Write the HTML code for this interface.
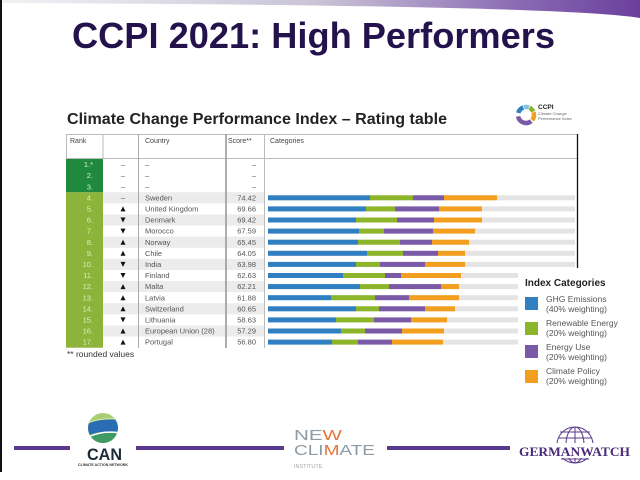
<!DOCTYPE html>
<html><head><meta charset="utf-8"><style>
html,body{margin:0;padding:0;background:#fff;width:640px;height:480px;overflow:hidden}
svg{display:block}
.t{font-family:"Liberation Sans",Arial,sans-serif}
.hd{font-size:7px;fill:#444}
.rw{font-size:7.5px;fill:#555}
.rk{font-size:7.5px;fill:#dbeec0}
.lg{font-size:8.5px;fill:#555}
</style></head><body>
<svg width="640" height="480" viewBox="0 0 640 480" xmlns="http://www.w3.org/2000/svg">
<defs>
<linearGradient id="sw" x1="0" y1="0" x2="1" y2="0">
<stop offset="0" stop-color="#f2f2f5"/><stop offset="0.5" stop-color="#c9c3d6"/><stop offset="0.8" stop-color="#8c6db5"/><stop offset="1" stop-color="#6a3f9c"/>
</linearGradient>
<clipPath id="glb"><circle cx="103" cy="428" r="15"/></clipPath>
</defs>
<rect width="640" height="480" fill="#fff"/>
<path d="M0,0 L640,0 L640,18 Q560,5 0,3 Z" fill="url(#sw)"/>
<rect x="0" y="0" width="2" height="472" fill="#111"/>

<text class="t" x="72" y="48" font-size="36" font-weight="bold" fill="#24124d" textLength="483" lengthAdjust="spacingAndGlyphs">CCPI 2021: High Performers</text>

<text class="t" x="67" y="124" font-size="16" font-weight="bold" fill="#222" textLength="380" lengthAdjust="spacingAndGlyphs">Climate Change Performance Index – Rating table</text>

<!-- CCPI logo -->
<g fill="none" stroke-width="4.5">
<path d="M531.14,121.13 A8,8 0 0 1 518.12,116.39" stroke="#7a5aa6"/>
<path d="M518.27,112.93 A8,8 0 0 1 523.26,107.48" stroke="#2f7fc1"/>
<path d="M523.93,107.27 A8,8 0 0 1 528.74,107.48" stroke="#7fc3e8"/>
<path d="M529.38,107.75 A8,8 0 0 1 533.25,111.62" stroke="#8db52a"/>
<path d="M533.52,112.26 A8,8 0 0 1 532.13,120.14" stroke="#f0a020"/>
</g>
<text class="t" x="538" y="109" font-size="6.5" font-weight="bold" fill="#222">CCPI</text>
<text class="t" x="538" y="115" font-size="4" fill="#666">Climate Change</text>
<text class="t" x="538" y="120" font-size="4" fill="#666">Performance Index</text>

<!-- table header -->
<line x1="67" y1="134.5" x2="578" y2="134.5" stroke="#bbb" stroke-width="1"/>
<line x1="67" y1="158.5" x2="578" y2="158.5" stroke="#bbb" stroke-width="1"/>
<line x1="66.5" y1="134" x2="66.5" y2="159" stroke="#bbb" stroke-width="1"/>
<text class="t hd" x="70" y="143">Rank</text>
<text class="t hd" x="145" y="143">Country</text>
<text class="t hd" x="228" y="143">Score**</text>
<text class="t hd" x="270" y="143">Categories</text>

<!-- rank column -->
<rect x="66" y="159" width="37" height="33.3" fill="#1f8a3e"/>
<rect x="66" y="192.3" width="37" height="155.4" fill="#8cb43a"/>

<!-- rows 1-3 -->
<g transform="translate(0,164.5)">
<text class="t rk" x="93" y="2.6" text-anchor="end">1.*</text>
<text class="t rw" x="123" y="2.6" text-anchor="middle" fill="#999">–</text>
<text class="t rw" x="145" y="2.6">–</text>
<text class="t rw" x="256" y="2.6" text-anchor="end">–</text>
</g>
<g transform="translate(0,175.6)">
<text class="t rk" x="93" y="2.6" text-anchor="end">2.</text>
<text class="t rw" x="123" y="2.6" text-anchor="middle">–</text>
<text class="t rw" x="145" y="2.6">–</text>
<text class="t rw" x="256" y="2.6" text-anchor="end">–</text>
</g>
<g transform="translate(0,186.7)">
<text class="t rk" x="93" y="2.6" text-anchor="end">3.</text>
<text class="t rw" x="123" y="2.6" text-anchor="middle">–</text>
<text class="t rw" x="145" y="2.6">–</text>
<text class="t rw" x="256" y="2.6" text-anchor="end">–</text>
</g>

<!-- row 4 -->
<g transform="translate(0,197.8)">
<rect x="103" y="-5.55" width="161" height="11.1" fill="#ececec"/>
<text class="t rk" x="93" y="2.6" text-anchor="end">4.</text>
<text class="t rw" x="123" y="2.6" text-anchor="middle">–</text>
<text class="t rw" x="145" y="2.6">Sweden</text>
<text class="t rw" x="256" y="2.6" text-anchor="end">74.42</text>
<rect x="268" y="-2.5" width="307" height="5" fill="#e4e4e4"/>
<rect x="268" y="-2.5" width="102" height="5" fill="#2f7fc1"/>
<rect x="370" y="-2.5" width="43" height="5" fill="#8db52a"/>
<rect x="413" y="-2.5" width="31" height="5" fill="#7a5aa6"/>
<rect x="444" y="-2.5" width="53" height="5" fill="#f29f1f"/>
</g>
<!-- row 5 -->
<g transform="translate(0,208.9)">
<text class="t rk" x="93" y="2.6" text-anchor="end">5.</text>
<polygon points="120.5,2.5 125.5,2.5 123,-2.5" fill="#111"/>
<text class="t rw" x="145" y="2.6">United Kingdom</text>
<text class="t rw" x="256" y="2.6" text-anchor="end">69.66</text>
<rect x="268" y="-2.5" width="307" height="5" fill="#e4e4e4"/>
<rect x="268" y="-2.5" width="98" height="5" fill="#2f7fc1"/>
<rect x="366" y="-2.5" width="29" height="5" fill="#8db52a"/>
<rect x="395" y="-2.5" width="44" height="5" fill="#7a5aa6"/>
<rect x="439" y="-2.5" width="43" height="5" fill="#f29f1f"/>
</g>
<!-- row 6 -->
<g transform="translate(0,220)">
<rect x="103" y="-5.55" width="161" height="11.1" fill="#ececec"/>
<text class="t rk" x="93" y="2.6" text-anchor="end">6.</text>
<polygon points="120.5,-2.5 125.5,-2.5 123,2.5" fill="#111"/>
<text class="t rw" x="145" y="2.6">Denmark</text>
<text class="t rw" x="256" y="2.6" text-anchor="end">69.42</text>
<rect x="268" y="-2.5" width="307" height="5" fill="#e4e4e4"/>
<rect x="268" y="-2.5" width="88" height="5" fill="#2f7fc1"/>
<rect x="356" y="-2.5" width="41" height="5" fill="#8db52a"/>
<rect x="397" y="-2.5" width="37" height="5" fill="#7a5aa6"/>
<rect x="434" y="-2.5" width="48" height="5" fill="#f29f1f"/>
</g>
<!-- row 7 -->
<g transform="translate(0,231.1)">
<text class="t rk" x="93" y="2.6" text-anchor="end">7.</text>
<polygon points="120.5,-2.5 125.5,-2.5 123,2.5" fill="#111"/>
<text class="t rw" x="145" y="2.6">Morocco</text>
<text class="t rw" x="256" y="2.6" text-anchor="end">67.59</text>
<rect x="268" y="-2.5" width="307" height="5" fill="#e4e4e4"/>
<rect x="268" y="-2.5" width="91" height="5" fill="#2f7fc1"/>
<rect x="359" y="-2.5" width="25" height="5" fill="#8db52a"/>
<rect x="384" y="-2.5" width="49" height="5" fill="#7a5aa6"/>
<rect x="433" y="-2.5" width="42" height="5" fill="#f29f1f"/>
</g>
<!-- row 8 -->
<g transform="translate(0,242.2)">
<rect x="103" y="-5.55" width="161" height="11.1" fill="#ececec"/>
<text class="t rk" x="93" y="2.6" text-anchor="end">8.</text>
<polygon points="120.5,2.5 125.5,2.5 123,-2.5" fill="#111"/>
<text class="t rw" x="145" y="2.6">Norway</text>
<text class="t rw" x="256" y="2.6" text-anchor="end">65.45</text>
<rect x="268" y="-2.5" width="307" height="5" fill="#e4e4e4"/>
<rect x="268" y="-2.5" width="90" height="5" fill="#2f7fc1"/>
<rect x="358" y="-2.5" width="42" height="5" fill="#8db52a"/>
<rect x="400" y="-2.5" width="32" height="5" fill="#7a5aa6"/>
<rect x="432" y="-2.5" width="37" height="5" fill="#f29f1f"/>
</g>
<!-- row 9 -->
<g transform="translate(0,253.3)">
<text class="t rk" x="93" y="2.6" text-anchor="end">9.</text>
<polygon points="120.5,2.5 125.5,2.5 123,-2.5" fill="#111"/>
<text class="t rw" x="145" y="2.6">Chile</text>
<text class="t rw" x="256" y="2.6" text-anchor="end">64.05</text>
<rect x="268" y="-2.5" width="307" height="5" fill="#e4e4e4"/>
<rect x="268" y="-2.5" width="99" height="5" fill="#2f7fc1"/>
<rect x="367" y="-2.5" width="36" height="5" fill="#8db52a"/>
<rect x="403" y="-2.5" width="35" height="5" fill="#7a5aa6"/>
<rect x="438" y="-2.5" width="27" height="5" fill="#f29f1f"/>
</g>
<!-- row 10 -->
<g transform="translate(0,264.4)">
<rect x="103" y="-5.55" width="161" height="11.1" fill="#ececec"/>
<text class="t rk" x="93" y="2.6" text-anchor="end">10.</text>
<polygon points="120.5,-2.5 125.5,-2.5 123,2.5" fill="#111"/>
<text class="t rw" x="145" y="2.6">India</text>
<text class="t rw" x="256" y="2.6" text-anchor="end">63.98</text>
<rect x="268" y="-2.5" width="307" height="5" fill="#e4e4e4"/>
<rect x="268" y="-2.5" width="88" height="5" fill="#2f7fc1"/>
<rect x="356" y="-2.5" width="24" height="5" fill="#8db52a"/>
<rect x="380" y="-2.5" width="45" height="5" fill="#7a5aa6"/>
<rect x="425" y="-2.5" width="40" height="5" fill="#f29f1f"/>
</g>
<!-- row 11 -->
<g transform="translate(0,275.5)">
<text class="t rk" x="93" y="2.6" text-anchor="end">11.</text>
<polygon points="120.5,-2.5 125.5,-2.5 123,2.5" fill="#111"/>
<text class="t rw" x="145" y="2.6">Finland</text>
<text class="t rw" x="256" y="2.6" text-anchor="end">62.63</text>
<rect x="268" y="-2.5" width="250" height="5" fill="#e4e4e4"/>
<rect x="268" y="-2.5" width="75" height="5" fill="#2f7fc1"/>
<rect x="343" y="-2.5" width="42" height="5" fill="#8db52a"/>
<rect x="385" y="-2.5" width="16" height="5" fill="#7a5aa6"/>
<rect x="401" y="-2.5" width="60" height="5" fill="#f29f1f"/>
</g>
<!-- row 12 -->
<g transform="translate(0,286.6)">
<rect x="103" y="-5.55" width="161" height="11.1" fill="#ececec"/>
<text class="t rk" x="93" y="2.6" text-anchor="end">12.</text>
<polygon points="120.5,2.5 125.5,2.5 123,-2.5" fill="#111"/>
<text class="t rw" x="145" y="2.6">Malta</text>
<text class="t rw" x="256" y="2.6" text-anchor="end">62.21</text>
<rect x="268" y="-2.5" width="250" height="5" fill="#e4e4e4"/>
<rect x="268" y="-2.5" width="92" height="5" fill="#2f7fc1"/>
<rect x="360" y="-2.5" width="29" height="5" fill="#8db52a"/>
<rect x="389" y="-2.5" width="52" height="5" fill="#7a5aa6"/>
<rect x="441" y="-2.5" width="18" height="5" fill="#f29f1f"/>
</g>
<!-- row 13 -->
<g transform="translate(0,297.7)">
<text class="t rk" x="93" y="2.6" text-anchor="end">13.</text>
<polygon points="120.5,2.5 125.5,2.5 123,-2.5" fill="#111"/>
<text class="t rw" x="145" y="2.6">Latvia</text>
<text class="t rw" x="256" y="2.6" text-anchor="end">61.88</text>
<rect x="268" y="-2.5" width="250" height="5" fill="#e4e4e4"/>
<rect x="268" y="-2.5" width="63" height="5" fill="#2f7fc1"/>
<rect x="331" y="-2.5" width="44" height="5" fill="#8db52a"/>
<rect x="375" y="-2.5" width="34" height="5" fill="#7a5aa6"/>
<rect x="409" y="-2.5" width="50" height="5" fill="#f29f1f"/>
</g>
<!-- row 14 -->
<g transform="translate(0,308.8)">
<rect x="103" y="-5.55" width="161" height="11.1" fill="#ececec"/>
<text class="t rk" x="93" y="2.6" text-anchor="end">14.</text>
<polygon points="120.5,2.5 125.5,2.5 123,-2.5" fill="#111"/>
<text class="t rw" x="145" y="2.6">Switzerland</text>
<text class="t rw" x="256" y="2.6" text-anchor="end">60.65</text>
<rect x="268" y="-2.5" width="250" height="5" fill="#e4e4e4"/>
<rect x="268" y="-2.5" width="88" height="5" fill="#2f7fc1"/>
<rect x="356" y="-2.5" width="23" height="5" fill="#8db52a"/>
<rect x="379" y="-2.5" width="46" height="5" fill="#7a5aa6"/>
<rect x="425" y="-2.5" width="30" height="5" fill="#f29f1f"/>
</g>
<!-- row 15 -->
<g transform="translate(0,319.9)">
<text class="t rk" x="93" y="2.6" text-anchor="end">15.</text>
<polygon points="120.5,-2.5 125.5,-2.5 123,2.5" fill="#111"/>
<text class="t rw" x="145" y="2.6">Lithuania</text>
<text class="t rw" x="256" y="2.6" text-anchor="end">58.63</text>
<rect x="268" y="-2.5" width="250" height="5" fill="#e4e4e4"/>
<rect x="268" y="-2.5" width="68" height="5" fill="#2f7fc1"/>
<rect x="336" y="-2.5" width="38" height="5" fill="#8db52a"/>
<rect x="374" y="-2.5" width="37" height="5" fill="#7a5aa6"/>
<rect x="411" y="-2.5" width="36" height="5" fill="#f29f1f"/>
</g>
<!-- row 16 -->
<g transform="translate(0,331)">
<rect x="103" y="-5.55" width="161" height="11.1" fill="#ececec"/>
<text class="t rk" x="93" y="2.6" text-anchor="end">16.</text>
<polygon points="120.5,2.5 125.5,2.5 123,-2.5" fill="#111"/>
<text class="t rw" x="145" y="2.6">European Union (28)</text>
<text class="t rw" x="256" y="2.6" text-anchor="end">57.29</text>
<rect x="268" y="-2.5" width="250" height="5" fill="#e4e4e4"/>
<rect x="268" y="-2.5" width="73" height="5" fill="#2f7fc1"/>
<rect x="341" y="-2.5" width="24" height="5" fill="#8db52a"/>
<rect x="365" y="-2.5" width="37" height="5" fill="#7a5aa6"/>
<rect x="402" y="-2.5" width="42" height="5" fill="#f29f1f"/>
</g>
<!-- row 17 -->
<g transform="translate(0,342.1)">
<text class="t rk" x="93" y="2.6" text-anchor="end">17.</text>
<polygon points="120.5,2.5 125.5,2.5 123,-2.5" fill="#111"/>
<text class="t rw" x="145" y="2.6">Portugal</text>
<text class="t rw" x="256" y="2.6" text-anchor="end">56.80</text>
<rect x="268" y="-2.5" width="250" height="5" fill="#e4e4e4"/>
<rect x="268" y="-2.5" width="64" height="5" fill="#2f7fc1"/>
<rect x="332" y="-2.5" width="26" height="5" fill="#8db52a"/>
<rect x="358" y="-2.5" width="34" height="5" fill="#7a5aa6"/>
<rect x="392" y="-2.5" width="51" height="5" fill="#f29f1f"/>
</g>

<!-- vertical lines -->
<line x1="103" y1="134" x2="103" y2="159" stroke="#bbb" stroke-width="1"/>
<line x1="138.5" y1="134" x2="138.5" y2="348" stroke="#aaa" stroke-width="1"/>
<line x1="226" y1="134" x2="226" y2="348" stroke="#999" stroke-width="1.6"/>
<line x1="264.5" y1="134" x2="264.5" y2="348" stroke="#bbb" stroke-width="1"/>
<line x1="577.5" y1="134" x2="577.5" y2="268" stroke="#111" stroke-width="1.3"/>

<text class="t" x="67" y="357" font-size="8.5" fill="#333">** rounded values</text>

<!-- legend -->
<rect x="519" y="268" width="121" height="125" fill="#fff"/>
<text class="t" x="525" y="286" font-size="10" font-weight="bold" fill="#222">Index Categories</text>
<rect x="525" y="297" width="13" height="13" fill="#2f7fc1"/>
<text class="t lg" x="546" y="302">GHG Emissions</text>
<text class="t lg" x="546" y="312">(40% weighting)</text>
<rect x="525" y="322" width="13" height="13" fill="#8db52a"/>
<text class="t lg" x="546" y="326">Renewable Energy</text>
<text class="t lg" x="546" y="336">(20% weighting)</text>
<rect x="525" y="345" width="13" height="13" fill="#7a5aa6"/>
<text class="t lg" x="546" y="350">Energy Use</text>
<text class="t lg" x="546" y="360">(20% weighting)</text>
<rect x="525" y="370" width="13" height="13" fill="#f29f1f"/>
<text class="t lg" x="546" y="374">Climate Policy</text>
<text class="t lg" x="546" y="384">(20% weighting)</text>

<!-- footer lines -->
<rect x="14" y="446" width="56" height="4" fill="#5a3a8e"/>
<rect x="136" y="446" width="148" height="4" fill="#5a3a8e"/>
<rect x="387" y="446" width="123" height="4" fill="#5a3a8e"/>

<!-- CAN logo -->
<g clip-path="url(#glb)">
<rect x="85" y="410" width="36" height="36" fill="#a7cf74"/>
<path d="M85,424 Q100,418 121,420 L121,432 Q100,430 85,436 Z" fill="#2a6db4"/>
<path d="M85,436 Q100,430 121,432 L121,446 L85,446 Z" fill="#3f9a63"/>
<path d="M88,437 Q103,430 120,433" fill="none" stroke="#fff" stroke-width="1.5"/>
<path d="M86,424 Q100,417 121,419" fill="none" stroke="#cfe6a8" stroke-width="1"/>
</g>
<text class="t" x="104.5" y="460" font-size="17" font-weight="bold" fill="#1d2a3a" text-anchor="middle" textLength="35" lengthAdjust="spacingAndGlyphs">CAN</text>
<text class="t" x="103" y="466" font-size="3.6" font-weight="bold" fill="#333" text-anchor="middle">CLIMATE ACTION NETWORK</text>

<!-- NewClimate -->
<text class="t" x="294" y="440" font-size="15" fill="#8e9ba4" textLength="48" lengthAdjust="spacingAndGlyphs">NE<tspan fill="#e2763a">W</tspan></text>
<text class="t" x="294" y="455" font-size="15" fill="#8e9ba4" textLength="81" lengthAdjust="spacingAndGlyphs">CLI<tspan fill="#e2763a">M</tspan>ATE</text>
<text class="t" x="294" y="468" font-size="5.5" fill="#a0a8ae">INSTITUTE</text>

<!-- Germanwatch -->
<g fill="none" stroke="#5a3a8e" stroke-width="1">
<circle cx="575" cy="445" r="18"/>
<ellipse cx="575" cy="445" rx="9" ry="18"/>
<line x1="575" y1="427" x2="575" y2="463"/>
<line x1="558" y1="438" x2="592" y2="438"/>
<line x1="560" y1="432" x2="590" y2="432"/>
<line x1="558" y1="454" x2="592" y2="454"/>
<line x1="561" y1="459" x2="589" y2="459"/>
</g>
<rect x="517" y="443" width="116" height="15" fill="#fff"/>
<text x="519" y="456" font-family="'Liberation Serif',serif" font-size="13" font-weight="bold" fill="#4b2a7a" textLength="111" lengthAdjust="spacingAndGlyphs">GERMANWATCH</text>
</svg>
</body></html>
